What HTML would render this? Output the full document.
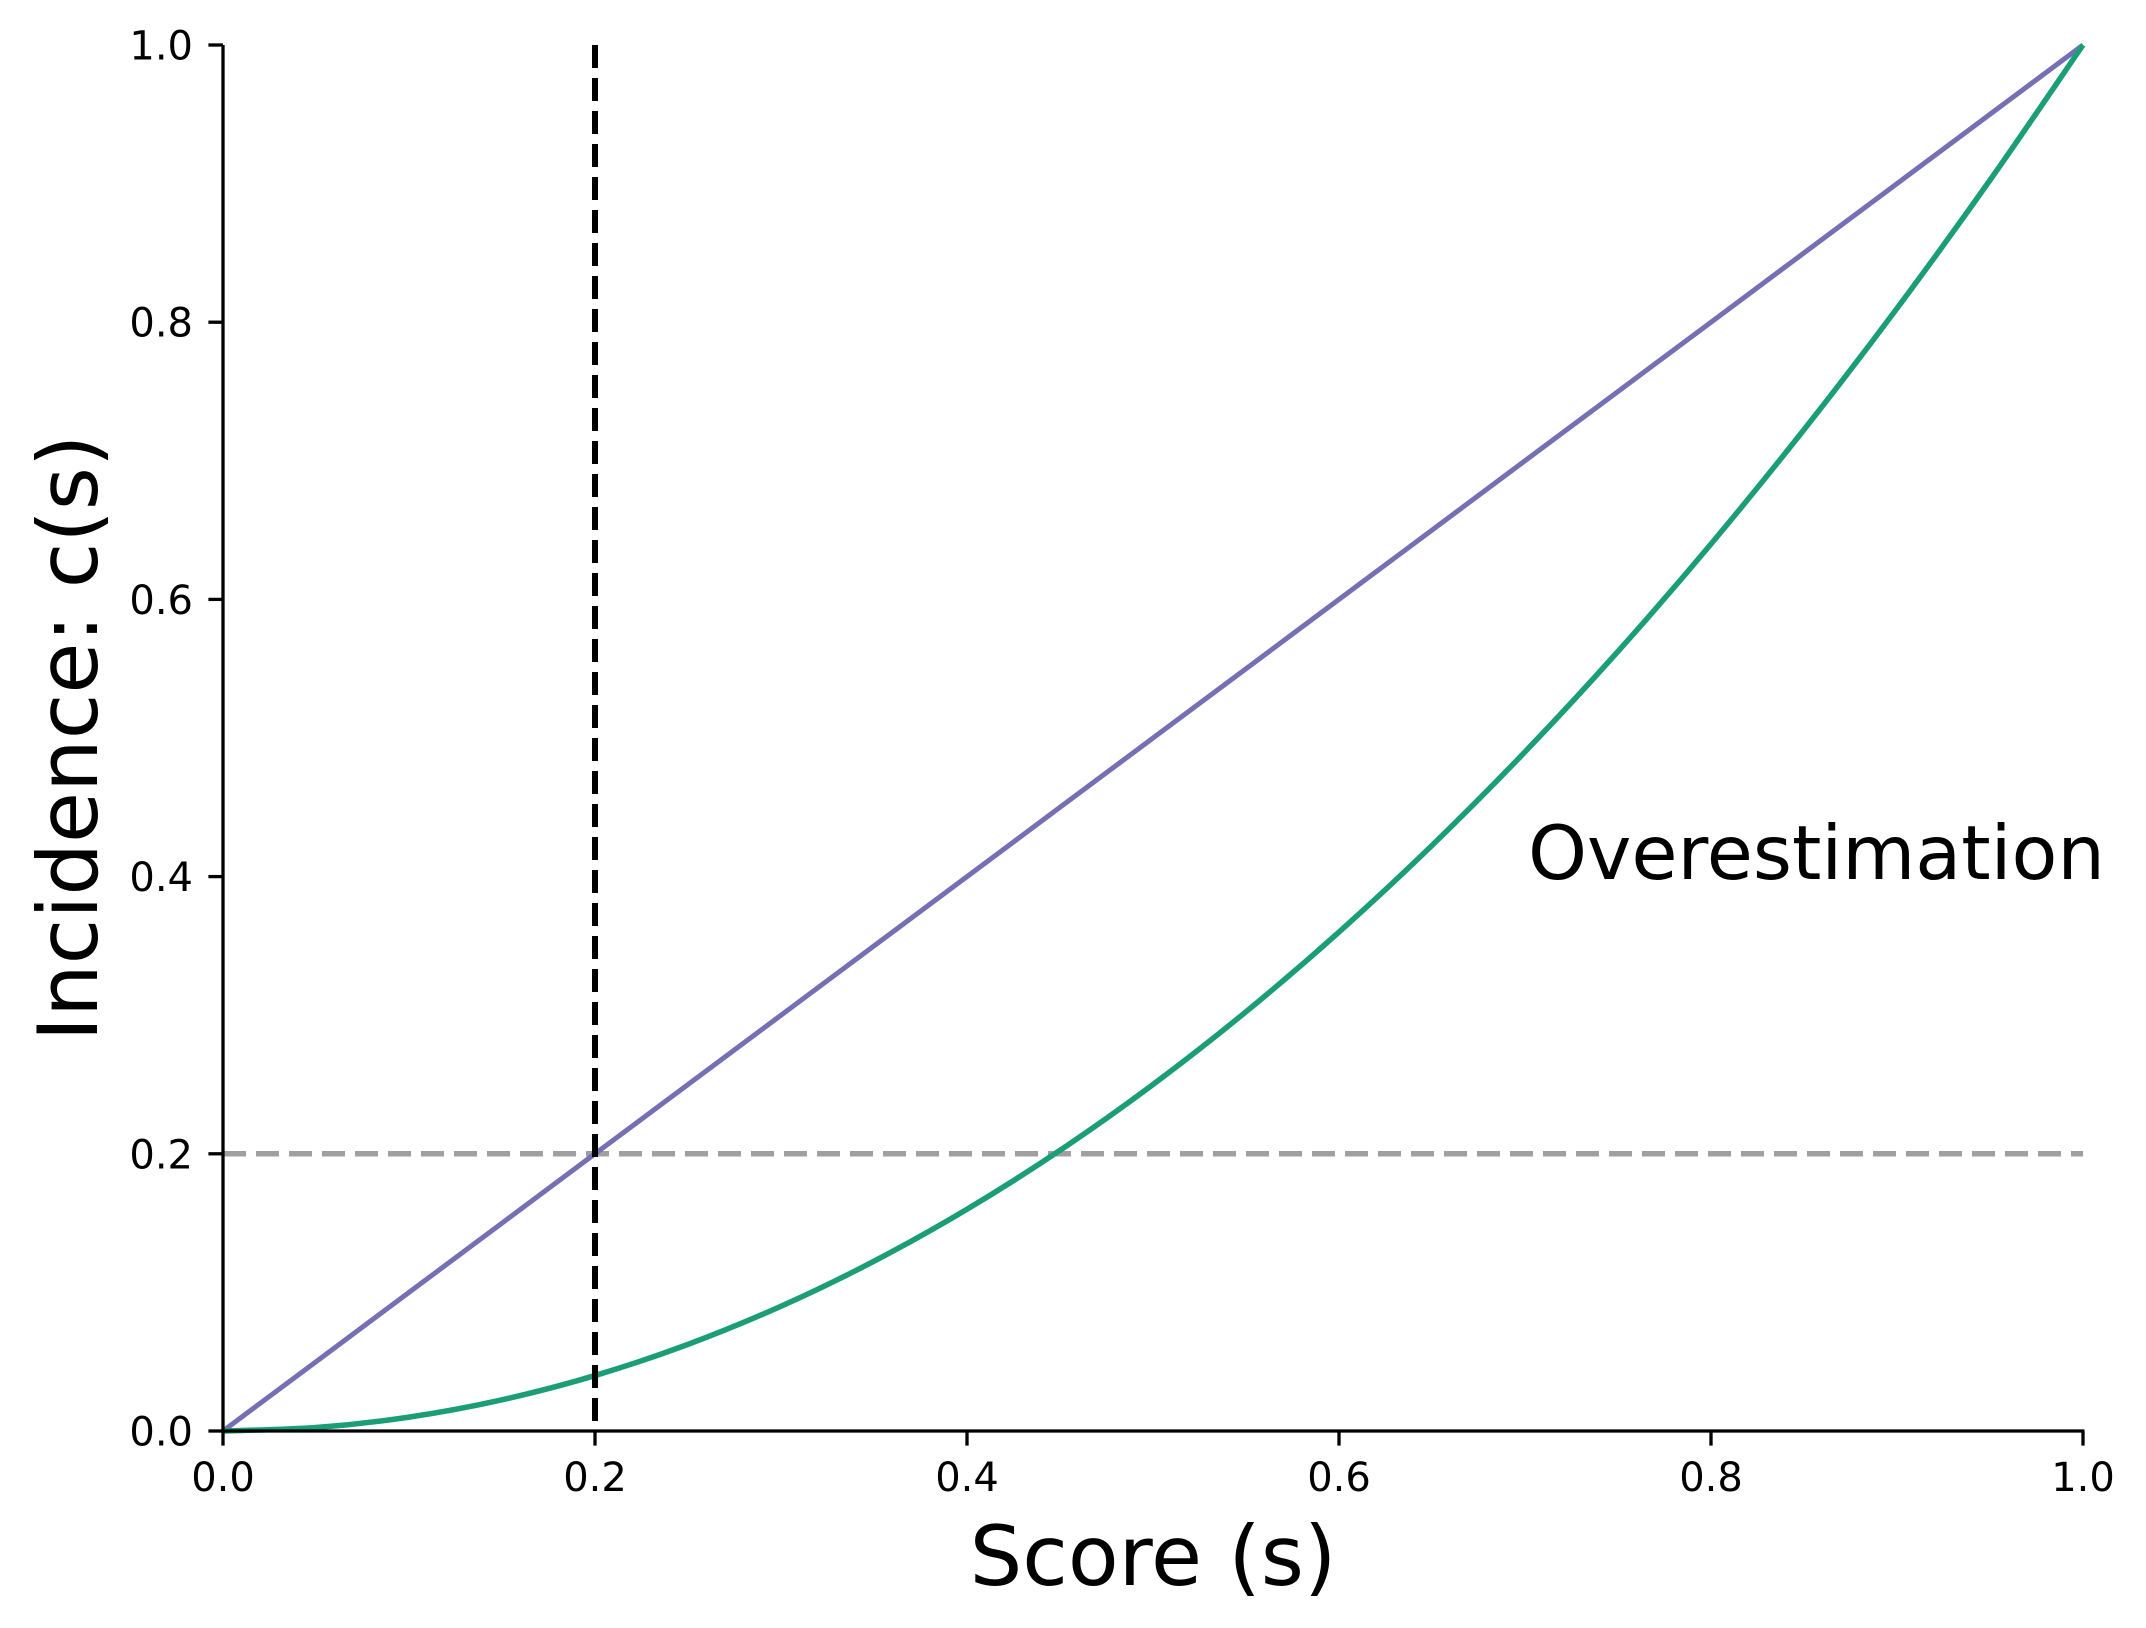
<!DOCTYPE html>
<html><head><meta charset="utf-8"><style>
html,body{margin:0;padding:0;background:#fff;}
svg{display:block;font-family:"DejaVu Sans","Liberation Sans",sans-serif;}
</style></head><body>
<svg id="chart" width="2146" height="1628" viewBox="0 0 2146 1628" xmlns="http://www.w3.org/2000/svg">
<g id="marks"></g>
<g id="axes"></g>
<text x="1153" y="1585" font-size="83" text-anchor="middle">Score (s)</text>
<text transform="translate(97,738) rotate(-90)" font-size="83" text-anchor="middle">Incidence: c(s)</text>
<text x="1528" y="879" font-size="75">Overestimation</text>
</svg>
<script>
const xTicks = [0, 0.2, 0.4, 0.6, 0.8, 1.0];
const yTicks = [0, 0.2, 0.4, 0.6, 0.8, 1.0];
const tickLabels = ["0.0", "0.2", "0.4", "0.6", "0.8", "1.0"];
const scoreX = [0,0.05,0.1,0.15,0.2,0.25,0.3,0.35,0.4,0.45,0.5,0.55,0.6,0.65,0.7,0.75,0.8,0.85,0.9,0.95,1.0];
const calibratedY = [0,0.05,0.1,0.15,0.2,0.25,0.3,0.35,0.4,0.45,0.5,0.55,0.6,0.65,0.7,0.75,0.8,0.85,0.9,0.95,1.0];
const incidenceY = [0,0.0025,0.01,0.0225,0.04,0.0625,0.09,0.1225,0.16,0.2025,0.25,0.3025,0.36,0.4225,0.49,0.5625,0.64,0.7225,0.81,0.9025,1.0];
const thresholdScore = [0.2];
const thresholdIncidence = [0.2];

const X0=223,X1=2083,Y0=1431,Y1=45;
const sx=v=>X0+(X1-X0)*v;
const sy=v=>Y0-(Y0-Y1)*v;
const NS="http://www.w3.org/2000/svg";
const marks=document.getElementById('marks');
const axes=document.getElementById('axes');
function mk(tag,attrs,parent){const e=document.createElementNS(NS,tag);for(const k in attrs)e.setAttribute(k,attrs[k]);parent.appendChild(e);return e;}
function smooth(xs,ys){
  const P=xs.map((x,i)=>[sx(x),sy(ys[i])]);
  let d='M'+P[0][0]+','+P[0][1];
  for(let i=0;i<P.length-1;i++){
    const p0=P[Math.max(i-1,0)],p1=P[i],p2=P[i+1],p3=P[Math.min(i+2,P.length-1)];
    const c1=[p1[0]+(p2[0]-p0[0])/6,p1[1]+(p2[1]-p0[1])/6];
    const c2=[p2[0]-(p3[0]-p1[0])/6,p2[1]-(p3[1]-p1[1])/6];
    d+=' C'+c1[0]+','+c1[1]+' '+c2[0]+','+c2[1]+' '+p2[0]+','+p2[1];
  }
  return d;
}

let h=mk('line',{x1:sx(0),x2:sx(1),y1:sy(thresholdIncidence[0]),y2:sy(thresholdIncidence[0]),stroke:'#a0a0a0','stroke-width':5.5,'stroke-dasharray':'23 10'},marks);



let p1=mk('path',{d:smooth(scoreX,calibratedY),fill:'none',stroke:'#7570b3','stroke-width':5,'stroke-linejoin':'round'},marks);



let p2=mk('path',{d:smooth(scoreX,incidenceY),fill:'none',stroke:'#1b9e77','stroke-width':5.5,'stroke-linejoin':'round'},marks);



let v=mk('line',{x1:sx(thresholdScore[0]),x2:sx(thresholdScore[0]),y1:sy(1),y2:sy(0),stroke:'#000','stroke-width':6,'stroke-dasharray':'23 10'},marks);



let ax=mk('line',{x1:X0,x2:X1+1.5,y1:Y0,y2:Y0,stroke:'#000','stroke-width':3.3},axes);


let ay=mk('line',{x1:X0,x2:X0,y1:Y0+1.5,y2:Y1,stroke:'#000','stroke-width':3.3},axes);



xTicks.forEach((t,i)=>{
  const tk=mk('line',{x1:sx(t),x2:sx(t),y1:Y0,y2:Y0+14.6,stroke:'#000','stroke-width':3.3},axes);
  
  
  const tl=mk('text',{x:sx(t),y:Y0+60,'font-size':40,'text-anchor':'middle'},axes);
  tl.textContent=tickLabels[i];
  
  
});
yTicks.forEach((t,i)=>{
  const tk=mk('line',{x1:X0-14.6,x2:X0,y1:sy(t),y2:sy(t),stroke:'#000','stroke-width':3.3},axes);
  
  
  const tl=mk('text',{x:X0-30,y:sy(t)+14.5,'font-size':40,'text-anchor':'end'},axes);
  tl.textContent=tickLabels[i];
  
  
});
</script>
</body></html>
